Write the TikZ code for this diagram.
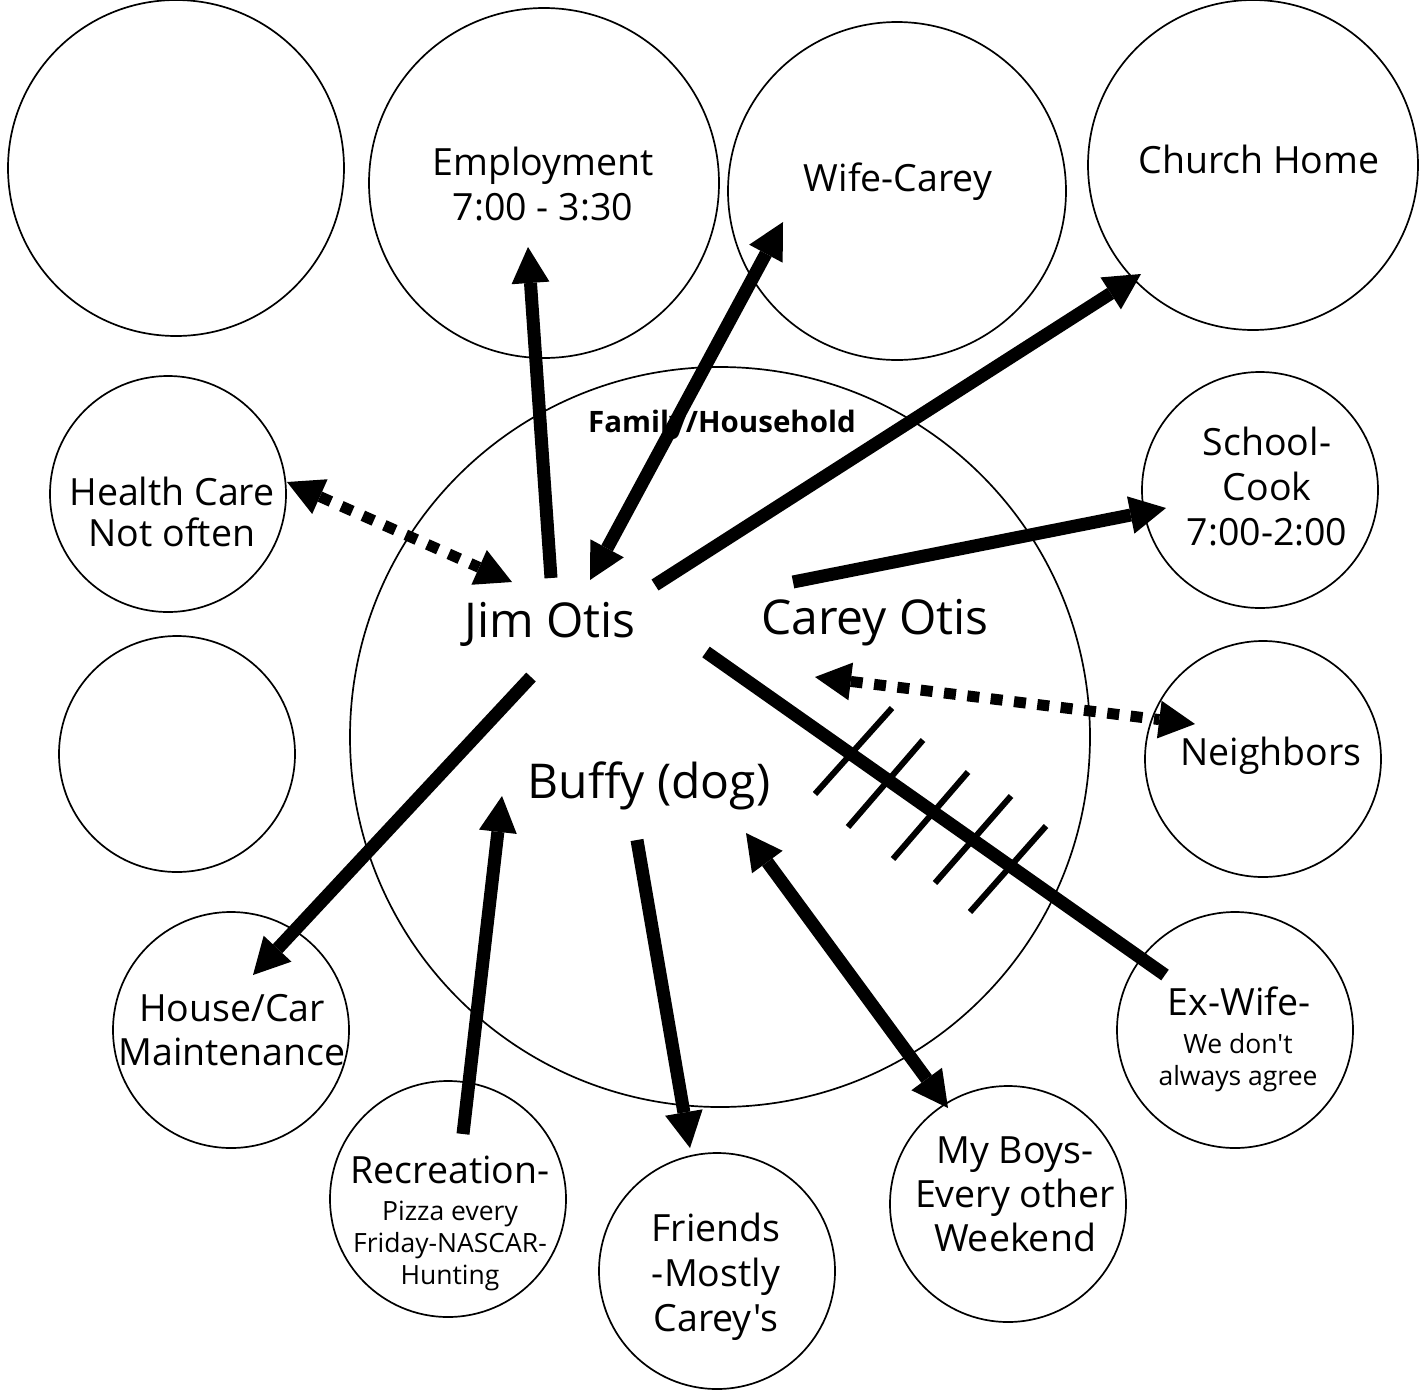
\documentclass[tikz,border=0pt]{standalone}
\usepackage{fontspec}
\setmainfont{Open Sans}[Ligatures=TeXOff]
\usetikzlibrary{arrows.meta}
\begin{document}
\begin{tikzpicture}[x=1pt,y=-1pt,
  ring/.style={draw=black, line width=1.7pt, circle, inner sep=0pt, minimum size=#1},
  lbl/.style={align=center, anchor=base, inner sep=0pt, font=\fontsize{37.5}{45}\selectfont},
  smalllbl/.style={align=center, anchor=base, inner sep=0pt, font=\fontsize{26.5}{32}\selectfont},
  namelbl/.style={anchor=base, inner sep=0pt, font=\fontsize{48}{58}\selectfont},
  headtip/.tip={Triangle[length=36pt,width=38pt,line width=0pt]},
  oneway/.style={line width=13pt, -headtip},
  twoway/.style={line width=13pt, headtip-headtip},
  dotlink/.style={line width=11pt, dash pattern=on 12pt off 11.5pt, headtip-headtip},
  plainlink/.style={line width=13pt},
  hash/.style={line width=6pt}
]
\useasboundingbox (0,0) rectangle (1427,1390);

% ---- circles ----
\node[ring=336pt] (cEmptyTop)  at (176,168)  {};
\node[ring=350pt] (cEmploy)    at (544,183)  {};
\node[ring=338pt] (cWife)      at (897,191)  {};
\node[ring=330pt] (cChurch)    at (1253,165) {};
\node[ring=236pt] (cHealth)    at (168,494)  {};
\node[ring=236pt] (cEmptyLeft) at (177,754)  {};
\node[ring=740pt] (cFamily)    at (720,737)  {};
\node[ring=236pt] (cSchool)    at (1260,490) {};
\node[ring=236pt] (cNeighbors) at (1263,759) {};
\node[ring=236pt] (cExWife)    at (1235,1030) {};
\node[ring=236pt] (cHouse)     at (231,1030) {};
\node[ring=236pt] (cRecreation) at (448,1199) {};
\node[ring=236pt] (cFriends)   at (717,1271) {};
\node[ring=236pt] (cBoys)      at (1008,1204) {};

% ---- labels (multi-line labels are placed by the baseline of their last line) ----
\node[lbl] (tEmploy) at (543,220) {Employment\\7:00 - 3:30};
\node[lbl] (tWife)   at (898,191) {Wife-Carey};
\node[lbl] (tChurch) at (1259,173) {Church Home};
\node[lbl] (tHealth) at (172,546) {Health Care\\[-4pt]Not often};
\node[anchor=base, inner sep=0pt, font=\fontsize{29.5}{34}\selectfont\bfseries] (tFamily) at (722,432) {Family/Household};
\node[namelbl] (tJim)   at (550,637) {Jim Otis};
\node[namelbl] (tCarey) at (875,634) {Carey Otis};
\node[namelbl] (tBuffy) at (649,798) {Buffy (dog)};
\node[lbl] (tSchool) at (1267,545) {School-\\Cook\\7:00-2:00};
\node[lbl] (tNeighbors) at (1271,765) {Neighbors};
\node[lbl] (tExWife) at (1239,1015) {Ex-Wife-};
\node[smalllbl] (tExWifeNote) at (1238,1085) {We don't\\always agree};
\node[lbl] (tHouse) at (232,1065) {House/Car\\[-1pt]Maintenance};
\node[lbl] (tRecreation) at (450,1183) {Recreation-};
\node[smalllbl] (tRecreationNote) at (450,1284) {Pizza every\\Friday-NASCAR-\\Hunting};
\node[lbl] (tFriends) at (716,1331) {Friends\\-Mostly\\Carey's};
\node[lbl] (tBoys) at (1015,1251) {My Boys-\\[-1pt]Every other\\[-1pt]Weekend};

% ---- connector ends ----
\coordinate (jimUp)      at (551,578);
\coordinate (employEnd)  at (528,247);
\coordinate (jimWife)    at (590,580);
\coordinate (wifeEnd)    at (783,222);
\coordinate (jimChurch)  at (655,585);
\coordinate (churchEnd)  at (1141,274);
\coordinate (healthEnd)  at (287,482);
\coordinate (jimHealth)  at (512,582);
\coordinate (careySchool) at (793,582);
\coordinate (schoolEnd)  at (1166,508);
\coordinate (careyNb)    at (815,677);
\coordinate (nbEnd)      at (1195,724);
\coordinate (jimEx)      at (706,652);
\coordinate (exEnd)      at (1165,975);
\coordinate (jimHouse)   at (531,677);
\coordinate (houseEnd)   at (253,975);
\coordinate (recStart)   at (463,1134);
\coordinate (buffyRec)   at (502,796);
\coordinate (buffyFr)    at (637,840);
\coordinate (friendsEnd) at (690,1148);
\coordinate (buffyBoys)  at (746,833);
\coordinate (boysEnd)    at (948,1108);

% ---- connectors ----
\draw[oneway]  (jimUp) -- (employEnd);
\draw[twoway]  (jimWife) -- (wifeEnd);
\draw[oneway]  (jimChurch) -- (churchEnd);
\draw[dotlink] (healthEnd) -- (jimHealth);
\draw[oneway]  (careySchool) -- (schoolEnd);
\draw[dotlink] (careyNb) -- (nbEnd);
\draw[plainlink] (jimEx) -- (exEnd);
\draw[oneway]  (jimHouse) -- (houseEnd);
\draw[oneway]  (recStart) -- (buffyRec);
\draw[oneway]  (buffyFr) -- (friendsEnd);
\draw[twoway]  (buffyBoys) -- (boysEnd);

% conflict marks across the Jim / ex-wife line
\draw[hash] (892,708) -- (815,794);
\draw[hash] (923,740) -- (848,827);
\draw[hash] (968,772) -- (893,859);
\draw[hash] (1011,796) -- (935,883);
\draw[hash] (1046,826) -- (970,912);
\end{tikzpicture}
\end{document}
